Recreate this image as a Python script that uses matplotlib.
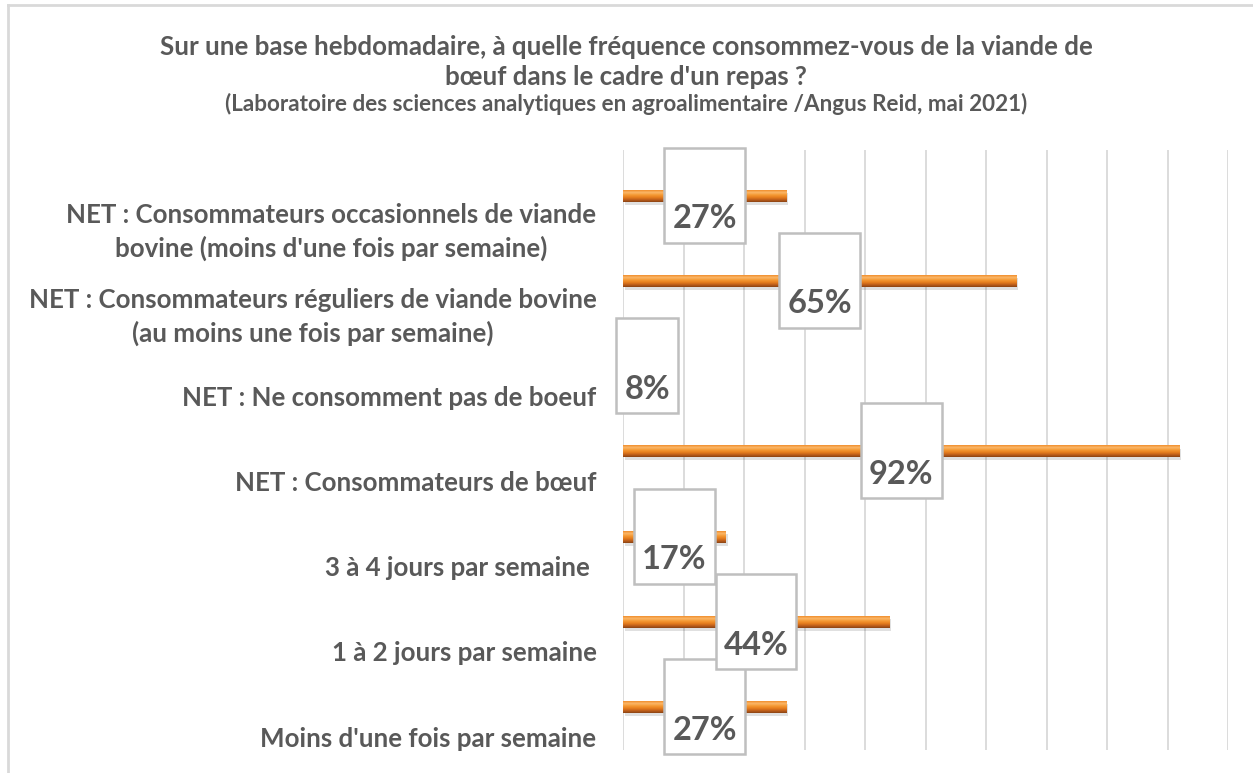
#!/usr/bin/env python3
"""Fréquence de consommation de viande de bœuf (Angus Reid, mai 2021)."""

import numpy as np
import matplotlib
matplotlib.use("Agg")
import matplotlib.pyplot as plt
from matplotlib.colors import LinearSegmentedColormap
from matplotlib.patches import Rectangle
from matplotlib.lines import Line2D

# data, bottom to top as drawn
categories = [
    "Moins d'une fois par semaine",
    "1 à 2 jours par semaine",
    "3 à 4 jours par semaine\u00a0",
    "NET : Consommateurs de bœuf",
    "NET : Ne consomment pas de boeuf",
    "NET : Consommateurs réguliers de viande bovine\n(au moins une fois par semaine)",
    "NET : Consommateurs occasionnels de viande\nbovine (moins d'une fois par semaine)",
]
values = [27, 44, 17, 92, 8, 65, 27]

title_lines = [
    "Sur une base hebdomadaire, à quelle fréquence consommez-vous de la viande de",
    "bœuf dans le cadre d'un repas ?",
]
subtitle = "(Laboratoire des sciences analytiques en agroalimentaire /Angus Reid, mai 2021)"

FONT = "Lato"
GREY = "#595959"
W, H = 1253, 773

fig = plt.figure(figsize=(W / 100, H / 100), dpi=100)
ax = fig.add_axes([623 / W, 1 - 750 / H, (1228 - 623) / W, (750 - 150) / H])

bar_cmap = LinearSegmentedColormap.from_list(
    "bar", ["#8a4314", "#c1601b", "#e8801f", "#f59a35", "#fbb86a", "#f08e2c"]
)
grad = np.linspace(0, 1, 64).reshape(-1, 1)
bar_h = 0.14

for i, v in enumerate(values):
    # soft shadow under the bar
    ax.add_patch(Rectangle((0.3, i - bar_h / 2 - 0.035), v, bar_h, color="#000000",
                           alpha=0.12, lw=0, zorder=2))
    ax.imshow(grad, cmap=bar_cmap, origin="lower", aspect="auto",
              extent=(0, v, i - bar_h / 2, i + bar_h / 2), zorder=3,
              interpolation="bilinear")

ax.set_xlim(0, 100)
ax.set_ylim(-0.5, len(values) - 0.465)
for x in range(0, 101, 10):
    ax.axvline(x, color="#d9d9d9", lw=1.3, zorder=1)
for s in ax.spines.values():
    s.set_visible(False)
ax.set_xticks([])
# Excel puts the category labels a bit below the thin bars
ax.set_yticks(np.arange(len(categories)) - 0.345)
ax.set_yticklabels(categories, fontfamily=FONT, fontweight="bold", fontsize=18.6,
                   color=GREY, multialignment="center", linespacing=1.42)
ax.tick_params(axis="y", length=0, pad=19)

# value labels in tall white boxes
labels = []
for i, v in enumerate(values):
    t = ax.annotate(f"{v}%", (v / 2, i), xytext=(0, -23), textcoords="offset pixels",
                    ha="center", va="center", fontfamily=FONT, fontweight="bold",
                    fontsize=23.5, color=GREY, zorder=6, annotation_clip=False)
    labels.append((i, v, t))

fig.canvas.draw()
renderer = fig.canvas.get_renderer()
for i, v, t in labels:
    bb = t.get_window_extent(renderer)
    _, yb = ax.transData.transform((0, i))
    x0 = bb.x0 - 8
    w = bb.width + 16
    y0 = yb - 47
    h = 95
    ax.add_patch(Rectangle((x0 / W, y0 / H), w / W, h / H, transform=fig.transFigure,
                           facecolor="white", edgecolor="#bfbfbf", lw=1.8,
                           zorder=5, clip_on=False))

# titles
fig.text(626 / W, 1 - 47 / H, title_lines[0], ha="center", va="center",
         fontfamily=FONT, fontweight="bold", fontsize=18.6, color=GREY)
fig.text(626 / W, 1 - 77 / H, title_lines[1], ha="center", va="center",
         fontfamily=FONT, fontweight="bold", fontsize=18.6, color=GREY)
fig.text(626 / W, 1 - 104 / H, subtitle, ha="center", va="center",
         fontfamily=FONT, fontweight="bold", fontsize=16.2, color=GREY)

# chart border (only top and left edges visible in the crop)
fig.add_artist(Line2D([8 / W, 8 / W], [0, 1 - 5 / H], transform=fig.transFigure,
                      color="#d9d9d9", lw=2))
fig.add_artist(Line2D([8 / W, 1], [1 - 5 / H, 1 - 5 / H], transform=fig.transFigure,
                      color="#d9d9d9", lw=2))

fig.savefig("out.png", dpi=100, facecolor="white")
